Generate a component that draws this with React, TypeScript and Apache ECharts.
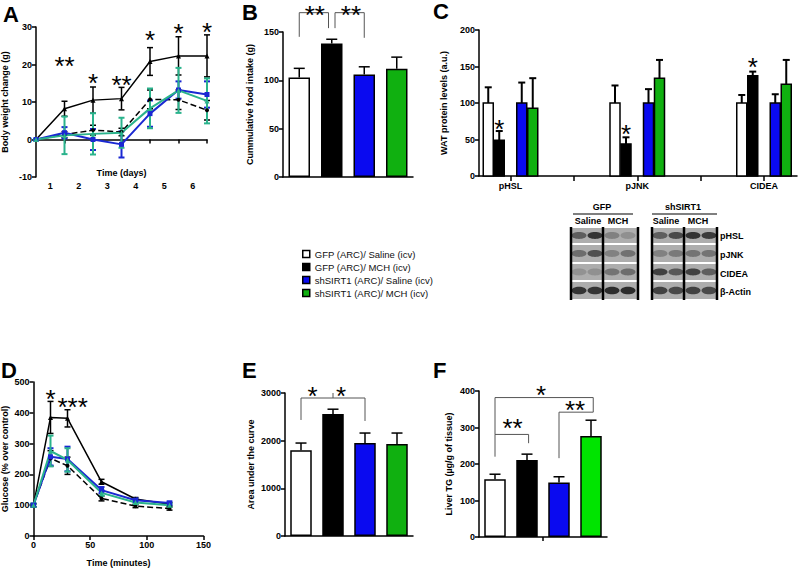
import React, { useEffect, useRef } from "react";
import * as echarts from "echarts";

const FONT = "Liberation Sans";

const groupNames = [
  "GFP (ARC)/ Saline (icv)",
  "GFP (ARC)/ MCH (icv)",
  "shSIRT1 (ARC)/ Saline (icv)",
  "shSIRT1 (ARC)/ MCH (icv)",
];
const groupFill = ["#ffffff", "#000000", "#0a0af0", "#10b010"];
const fGroupFill = ["#ffffff", "#000000", "#0a0af0", "#00e400"];
const lineColors = ["#000000", "#000000", "#1a28d2", "#2ab38c"];

// ---- Panel A: body weight change
const daysA = [0, 1, 2, 3, 4, 5, 6];
const dayTickValues = [1, 2, 3, 4, 5, 6];
const dayLabelValues = [0.5, 1.5, 2.5, 3.5, 4.5, 5.5];
const dayLabels = ["1", "2", "3", "4", "5", "6"];
const aGfpSal = [0, 1.3, 2.5, 2.0, 10.7, 10.6, 7.8];
const aGfpSalErr = [0, 0.8, 1.3, 1.0, 2.5, 2.6, 2.6];
const aGfpMch = [0, 8.2, 10.5, 10.9, 20.8, 22.3, 22.3];
const aGfpMchErr = [0, 2.0, 3.5, 3.0, 3.7, 5.1, 5.6];
const aShSal = [0, 1.8, 0.0, -1.3, 6.9, 13.2, 12.0];
const aShSalErr = [0, 1.5, 2.8, 3.5, 3.5, 2.3, 3.5];
const aShMch = [0, 1.1, 1.5, 1.8, 8.3, 13.1, 10.3];
const aShMchErr = [0, 5.0, 5.5, 4.0, 5.3, 6.0, 6.0];
const aStarX = [1, 2, 3, 4, 5, 6];
const aStarY = [21.2, 16.6, 16.1, 28.1, 30.0, 30.1];
const aStarText = ["**", "*", "**", "*", "*", "*"];

// ---- Panel B: cumulative food intake
const bFood = [103, 138, 106, 112];
const bFoodErr = [9.4, 4.5, 8, 12];
const bStarX = [0.48, 1.59];
const bStarY = [174, 174];
const bStarText = ["**", "**"];
const bBrackets = [
  [0, 0.9, 170, 145, 154],
  [1.1, 2, 170, 154, 144],
];

// ---- Panel C: WAT protein levels
const cProteins = ["pHSL", "pJNK", "CIDEA"];
const cGroupX = [0, 1, 2];
const cGfpSal = [100, 100, 100];
const cGfpSalErr = [21.5, 24, 11];
const cGfpMch = [49, 44, 137.4];
const cGfpMchErr = [12.6, 9, 5.6];
const cShSal = [100, 100, 100];
const cShSalErr = [28, 19, 12];
const cShMch = [92.7, 134, 125.6];
const cShMchErr = [41.3, 25, 33.4];
const cStarY = [72, 65, 157];

// ---- Panel D: glucose tolerance
const minutesD = [0, 15, 30, 60, 90, 120];
const dGfpSal = [100, 252, 228, 122, 97, 89];
const dGfpSalErr = [5, 25, 28, 8, 5, 5];
const dGfpMch = [100, 385, 382, 176, 120, 103];
const dGfpMchErr = [5, 52, 28, 8, 5, 5];
const dShSal = [100, 257, 250, 149, 116, 107];
const dShSalErr = [5, 28, 40, 10, 6, 5];
const dShMch = [100, 276, 247, 140, 109, 100];
const dShMchErr = [5, 50, 38, 10, 6, 5];
const dStarX = [15, 34.5];
const dStarY = [464, 438];
const dStarText = ["*", "***"];

// ---- Panel E: area under the curve
const eAuc = [1800, 2560, 1950, 1930];
const eAucErr = [150, 100, 210, 230];
const eBrackets = [
  [0, 2, 2895, 2434, 2413],
  [1, 1, 2895, 2895, 3000],
];
const eStarX = [0.36, 1.25];
const eStarY = [3063, 3063];
const eStarText = ["*", "*"];

// ---- Panel F: liver TG
const fTg = [158, 211, 149, 277];
const fTgErr = [14, 16, 16, 43];
const fBrackets = [
  [0, 1.05, 281, 220, 257],
  [0, 3.07, 382, 281, 342],
  [2, 3.07, 342, 216, 342],
];
const fStarX = [0.55, 1.44, 2.5];
const fStarY = [315, 405, 363];
const fStarText = ["**", "*", "**"];

// ---- Western blot band intensities (lanes: saline, saline, MCH, MCH)
const blotRowNames = ["pHSL", "pJNK", "CIDEA", "β-Actin"];
const blotGfp = [
  [0.55, 0.85, 0.3, 0.2],
  [0.45, 0.65, 0.3, 0.42],
  [0.18, 0.2, 0.4, 0.45],
  [0.85, 0.85, 0.9, 0.9],
];
const blotSh = [
  [0.55, 0.7, 0.85, 0.8],
  [0.3, 0.35, 0.4, 0.4],
  [0.75, 0.6, 0.75, 0.55],
  [0.75, 0.7, 0.75, 0.7],
];

const AX = { color: "#000", width: 1.5 };
const labelStyle = { color: "#000", fontSize: 9, fontWeight: "bold", fontFamily: FONT, margin: 4 };
const nameStyle = { color: "#000", fontSize: 9, fontWeight: "bold", fontFamily: FONT };
const STAR_FS = 26;
const C_W = 10;
const C_OFF = [-22.25, -11.25, 11.25, 22.25];
const C_MIN = (479 - 510.5) / 126.75;
const C_MAX = (797 - 510.5) / 126.75;

function yAx(gridIndex: number, min: number, max: number, interval: number, name: string, nameGap: number) {
  return {
    type: "value", gridIndex, min, max, interval, name,
    nameLocation: "middle", nameGap, nameRotate: 90, nameTextStyle: nameStyle,
    axisLine: { show: true, onZero: false, lineStyle: AX },
    axisTick: { show: true, length: 4, lineStyle: AX },
    axisLabel: { ...labelStyle, formatter: (v: number) => String(v) },
    splitLine: { show: false },
  };
}

function errorBars(xi: number, yi: number, xs: number[], vals: number[], errs: number[], color: string,
  both: boolean, capHalf: number, lw: number, z: number, pxOff = 0) {
  return {
    type: "custom", xAxisIndex: xi, yAxisIndex: yi, z, silent: true, clip: false,
    data: xs.map((x, i) => [x, vals[i], errs[i]]),
    renderItem: (params: any, api: any) => {
      const x = api.value(0), v = api.value(1), e = api.value(2);
      const top = api.coord([x, v + e]);
      const bot = api.coord([x, both ? v - e : v]);
      const cx = top[0] + pxOff;
      const st = { stroke: color, lineWidth: lw };
      const ch: any[] = [
        { type: "line", shape: { x1: cx, y1: top[1], x2: cx, y2: bot[1] }, style: st },
        { type: "line", shape: { x1: cx - capHalf, y1: top[1], x2: cx + capHalf, y2: top[1] }, style: st },
      ];
      if (both) ch.push({ type: "line", shape: { x1: cx - capHalf, y1: bot[1], x2: cx + capHalf, y2: bot[1] }, style: st });
      return { type: "group", children: ch };
    },
  };
}

function stars(xi: number, yi: number, xs: number[], ys: number[], texts: string[], pxOff = 0) {
  return {
    type: "custom", xAxisIndex: xi, yAxisIndex: yi, z: 10, silent: true, clip: false,
    data: xs.map((x, i) => [x, ys[i]]),
    renderItem: (params: any, api: any) => {
      const p = api.coord([api.value(0), api.value(1)]);
      return {
        type: "text", x: p[0] + pxOff, y: p[1] + STAR_FS * 0.22,
        style: {
          text: texts[params.dataIndex], fontSize: STAR_FS, fontFamily: FONT, fill: "#000",
          align: "center", verticalAlign: "middle", textAlign: "center", textVerticalAlign: "middle",
        },
      };
    },
  };
}

function brackets(xi: number, yi: number, list: number[][]) {
  return {
    type: "custom", xAxisIndex: xi, yAxisIndex: yi, z: 9, silent: true, clip: false,
    data: list,
    renderItem: (params: any, api: any) => {
      const x1 = api.value(0), x2 = api.value(1), t = api.value(2), lb = api.value(3), rb = api.value(4);
      const pts = [api.coord([x1, lb]), api.coord([x1, t]), api.coord([x2, t]), api.coord([x2, rb])];
      return { type: "polyline", shape: { points: pts }, style: { stroke: "#555", lineWidth: 1, fill: null } };
    },
  };
}

function barSet(xi: number, yi: number, vals: number[], fills: string[], stack: string) {
  return vals.map((_, k) => ({
    type: "bar", name: groupNames[k], xAxisIndex: xi, yAxisIndex: yi, stack, barWidth: 21.5,
    data: vals.map((v, i) => (i === k ? v : "-")),
    itemStyle: { color: fills[k], borderColor: "#000", borderWidth: 1.5 },
    emphasis: { disabled: true },
  }));
}

function cBars(vals: number[], errs: number[], fill: string, off: number) {
  return {
    type: "custom", xAxisIndex: 3, yAxisIndex: 2, z: 3, silent: true,
    data: cGroupX.map((x, i) => [x, vals[i], errs[i]]),
    renderItem: (params: any, api: any) => {
      const x = api.value(0), v = api.value(1), e = api.value(2);
      const base = api.coord([x, 0]), top = api.coord([x, v]), et = api.coord([x, v + e]);
      const cx = base[0] + off;
      const st = { stroke: "#000", lineWidth: 2 };
      return {
        type: "group",
        children: [
          { type: "line", shape: { x1: cx, y1: top[1], x2: cx, y2: et[1] }, style: st },
          { type: "line", shape: { x1: cx - 3.5, y1: et[1], x2: cx + 3.5, y2: et[1] }, style: st },
          { type: "rect", shape: { x: cx - C_W / 2, y: top[1], width: C_W, height: base[1] - top[1] },
            style: { fill, stroke: "#000", lineWidth: 1.5 } },
        ],
      };
    },
  };
}

function lineSet(xi: number, yi: number, xs: number[], sets: number[][], errs: number[][]) {
  const symbols = ["circle", "triangle", "rect", "triangle"];
  const widths = [1.5, 1.5, 2, 2];
  const out: any[] = [];
  sets.forEach((vals, k) => {
    out.push(errorBars(xi, yi, xs, vals, errs[k], lineColors[k], true, 3, k < 2 ? 1.5 : 2, 3 + k * 0.1));
  });
  sets.forEach((vals, k) => {
    out.push({
      type: "line", xAxisIndex: xi, yAxisIndex: yi, z: 4,
      data: xs.map((x, i) => [x, vals[i]]),
      symbol: symbols[k], symbolSize: k === 0 ? 4 : 5,
      lineStyle: { color: lineColors[k], width: widths[k], type: k === 0 ? "dashed" : "solid" },
      itemStyle: { color: lineColors[k] },
      emphasis: { disabled: true },
    });
  });
  return out;
}

function textEl(text: string, x: number, y: number, size: number, align = "center", weight = "bold") {
  return {
    type: "text", x, y,
    style: { text, fontSize: size, fontWeight: weight, fontFamily: FONT, fill: "#000", align, verticalAlign: "middle" },
  };
}

function blotGraphics() {
  const els: any[] = [];
  const rowEdges = [227, 244, 263, 281, 300];
  const panels = [
    { x0: 571, x1: 638, mid: 603, lanes: [579, 595, 612, 628], vals: blotGfp },
    { x0: 652, x1: 717, mid: 684, lanes: [660, 676, 693, 709], vals: blotSh },
  ];
  panels.forEach((p) => {
    for (let r = 0; r < 4; r++) {
      const y0 = rowEdges[r] + 1, y1 = rowEdges[r + 1] - 1;
      els.push({ type: "rect", shape: { x: p.x0, y: y0, width: p.x1 - p.x0, height: y1 - y0 }, style: { fill: "#adadad" } });
      p.lanes.forEach((lx, l) => {
        els.push({
          type: "ellipse", shape: { cx: lx, cy: (y0 + y1) / 2, rx: 7.5, ry: r === 3 ? 3.8 : 3.4 },
          style: { fill: `rgba(30,30,30,${p.vals[r][l]})` },
        });
      });
    }
    [p.x0, p.mid, p.x1].forEach((x) =>
      els.push({ type: "line", shape: { x1: x, y1: 227, x2: x, y2: 300 }, style: { stroke: "#000", lineWidth: 2.5 } })
    );
  });
  els.push(textEl("GFP", 602, 207, 9));
  els.push(textEl("shSIRT1", 683, 207, 9));
  els.push({ type: "line", shape: { x1: 573, y1: 214, x2: 633, y2: 214 }, style: { stroke: "#000", lineWidth: 1.2 } });
  els.push({ type: "line", shape: { x1: 652, y1: 214, x2: 717, y2: 214 }, style: { stroke: "#000", lineWidth: 1.2 } });
  els.push(textEl("Saline", 588, 221, 9));
  els.push(textEl("MCH", 618, 221, 9));
  els.push(textEl("Saline", 666, 221, 9));
  els.push(textEl("MCH", 698, 221, 9));
  const rowY = [236, 255, 274, 292];
  blotRowNames.forEach((n, i) => els.push(textEl(n, 720, rowY[i], 9, "left")));
  return els;
}

function panelLetters() {
  const L = [
    ["A", 3, 14], ["B", 242, 12], ["C", 433, 11],
    ["D", 1, 370], ["E", 242, 370], ["F", 433, 370],
  ];
  return L.map(([t, x, y]) => textEl(t as string, x as number, y as number, 22, "left"));
}

function buildOption() {
  return {
    animation: false,
    backgroundColor: "#fff",
    textStyle: { fontFamily: FONT },
    grid: [
      { left: 36, top: 27, width: 171, height: 150, outerBoundsMode: "none" },
      { left: 283, top: 32, width: 130, height: 145, outerBoundsMode: "none" },
      { left: 479, top: 30, width: 318, height: 146, outerBoundsMode: "none" },
      { left: 33.5, top: 382, width: 170, height: 154, outerBoundsMode: "none" },
      { left: 285, top: 393, width: 128, height: 143, outerBoundsMode: "none" },
      { left: 479, top: 391, width: 128, height: 146, outerBoundsMode: "none" },
    ],
    xAxis: [
      {
        type: "value", gridIndex: 0, min: 0, max: 6, name: "Time (days)", nameLocation: "middle", nameGap: -9,
        nameMoveOverlap: false,
        nameTextStyle: nameStyle, axisLine: { onZero: true, lineStyle: AX },
        axisTick: { show: true, length: 4, lineStyle: AX, customValues: dayTickValues },
        axisLabel: { ...labelStyle, customValues: dayLabelValues, formatter: (v: number) => dayLabels[Math.round(v - 0.5)] },
        splitLine: { show: false },
      },
      {
        type: "category", gridIndex: 1, data: groupNames, axisLine: { lineStyle: AX },
        axisTick: { alignWithLabel: true, length: 4, lineStyle: AX }, axisLabel: { show: false },
      },
      { type: "value", gridIndex: 1, min: -0.5, max: 3.5, show: false },
      {
        type: "value", gridIndex: 2, min: C_MIN, max: C_MAX, axisLine: { onZero: false, lineStyle: AX },
        axisTick: { show: true, length: 5, lineStyle: AX, customValues: [0, 0.5, 1, 1.5, 2] },
        axisLabel: { ...labelStyle, margin: 5, customValues: [0, 1, 2], formatter: (v: number) => cProteins[Math.round(v)] },
        splitLine: { show: false },
      },
      {
        type: "value", gridIndex: 3, min: 0, max: 150, interval: 50, name: "Time (minutes)", nameLocation: "middle",
        nameGap: 22, nameTextStyle: nameStyle, axisLine: { onZero: false, lineStyle: AX },
        axisTick: { show: true, length: 4, lineStyle: AX }, axisLabel: { ...labelStyle }, splitLine: { show: false },
      },
      {
        type: "category", gridIndex: 4, data: groupNames, axisLine: { lineStyle: AX },
        axisTick: { alignWithLabel: true, length: 4, lineStyle: AX }, axisLabel: { show: false },
      },
      { type: "value", gridIndex: 4, min: -0.5, max: 3.5, show: false },
      {
        type: "category", gridIndex: 5, data: groupNames, axisLine: { lineStyle: AX },
        axisTick: { show: false }, axisLabel: { show: false },
      },
      {
        type: "value", gridIndex: 5, min: -0.5, max: 3.5, position: "bottom", axisLine: { show: false },
        axisTick: { show: true, length: 4, lineStyle: AX, customValues: [1.5] }, axisLabel: { show: false },
        splitLine: { show: false },
      },
    ],
    yAxis: [
      yAx(0, -10, 30, 10, "Body weight change (g)", 27),
      yAx(1, 0, 150, 50, "Cummulative food intake (g)", 29),
      yAx(2, 0, 200, 50, "WAT protein levels (a.u.)", 31),
      yAx(3, 0, 500, 100, "Glucose (% over control)", 24),
      yAx(4, 0, 3000, 1000, "Area under the curve", 30),
      yAx(5, 0, 400, 100, "Liver TG (µg/g of tissue)", 26),
    ],
    legend: {
      orient: "vertical", left: 297, top: 244, itemWidth: 7, itemHeight: 7, itemGap: 3,
      icon: "rect", selectedMode: false,
      textStyle: { fontFamily: FONT, fontSize: 9.5, color: "#111" },
      data: groupNames.map((n, i) => ({
        name: n, itemStyle: { color: groupFill[i], borderColor: "#000", borderWidth: 1.5 },
      })),
    },
    graphic: [...panelLetters(), ...blotGraphics()],
    series: [
      ...barSet(1, 1, bFood, groupFill, "b"),
      ...barSet(5, 4, eAuc, groupFill, "e"),
      ...barSet(7, 5, fTg, fGroupFill, "f"),
      errorBars(2, 1, [0, 1, 2, 3], bFood, bFoodErr, "#000", false, 5.5, 1.5, 3),
      errorBars(6, 4, [0, 1, 2, 3], eAuc, eAucErr, "#000", false, 5.5, 1.5, 3),
      errorBars(8, 5, [0, 1, 2, 3], fTg, fTgErr, "#000", false, 5.5, 1.5, 3),
      brackets(2, 1, bBrackets),
      brackets(6, 4, eBrackets),
      brackets(8, 5, fBrackets),
      stars(2, 1, bStarX, bStarY, bStarText),
      stars(6, 4, eStarX, eStarY, eStarText),
      stars(8, 5, fStarX, fStarY, fStarText),
      cBars(cGfpSal, cGfpSalErr, groupFill[0], C_OFF[0]),
      cBars(cGfpMch, cGfpMchErr, groupFill[1], C_OFF[1]),
      cBars(cShSal, cShSalErr, groupFill[2], C_OFF[2]),
      cBars(cShMch, cShMchErr, groupFill[3], C_OFF[3]),
      stars(3, 2, cGroupX, cStarY, ["*", "*", "*"], C_OFF[1]),
      ...lineSet(0, 0, daysA, [aGfpSal, aGfpMch, aShSal, aShMch], [aGfpSalErr, aGfpMchErr, aShSalErr, aShMchErr]),
      stars(0, 0, aStarX, aStarY, aStarText),
      ...lineSet(4, 3, minutesD, [dGfpSal, dGfpMch, dShSal, dShMch], [dGfpSalErr, dGfpMchErr, dShSalErr, dShMchErr]),
      stars(4, 3, dStarX, dStarY, dStarText),
    ],
  };
}

export default function App() {
  const ref = useRef<HTMLDivElement>(null);
  useEffect(() => {
    document.body.style.margin = "0";
    const chart = echarts.init(ref.current as HTMLDivElement, null, { renderer: "svg" });
    chart.setOption(buildOption() as any);
    return () => chart.dispose();
  }, []);
  return <div ref={ref} style={{ width: 799, height: 570 }} />;
}
